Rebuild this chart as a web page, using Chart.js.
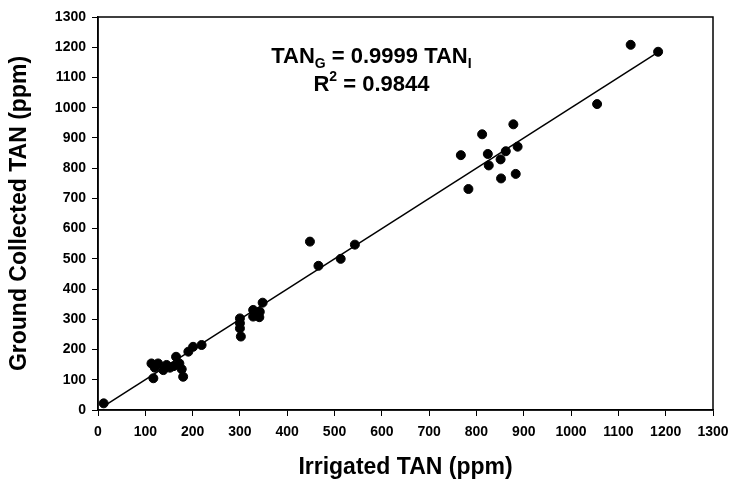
<!DOCTYPE html>
<html><head><meta charset="utf-8">
<script src="https://cdn.jsdelivr.net/npm/chart.js@4/dist/chart.umd.min.js"></script>
<style>html,body{margin:0;padding:0;background:#fff}#w{width:733px;height:490px}</style>
</head><body><div id="w"><canvas id="c"></canvas></div>
<script>
const irrigatedTAN = [12,113,117,120,127,138,145,152,160,165,172,177,180,191,201,219,
  300,300,300,302,328,328,341,342,348,448,466,513,543,
  767,783,812,824,826,851,852,862,878,883,887,1055,1126,1184];
const groundTAN = [22,154,105,140,154,132,149,140,145,176,154,135,110,193,209,215,
  303,287,270,243,331,309,307,325,355,557,477,500,547,
  843,731,912,847,809,829,766,856,945,781,871,1012,1208,1185];
const fitX = [10,1185];
const slope = 0.9999;
const xTicks = [0,100,200,300,400,500,600,700,800,900,1000,1100,1200,1300];
const yTicks = [0,100,200,300,400,500,600,700,800,900,1000,1100,1200,1300];
const eqLine1 = ["TAN","G"," = 0.9999 TAN","I"];
const eqLine2 = ["R","2"," = 0.9844"];

const pts = irrigatedTAN.map((x,i)=>({x:x,y:groundTAN[i]}));
const fit = fitX.map(x=>({x:x,y:slope*x}));
const F = "'Liberation Sans', Arial, sans-serif";

const frame = {
  id:'frame',
  afterDraw(chart){
    const {ctx, chartArea:a, scales} = chart;
    ctx.save();
    ctx.strokeStyle='#000'; ctx.lineWidth=1.5;
    ctx.strokeRect(a.left, a.top, a.right-a.left, a.bottom-a.top);
    const cx = scales.x.getPixelForValue(578);
    const big = "bold 22px "+F, small = "bold 14px "+F;
    function rich(parts, y, subOff){
      let w=0;
      parts.forEach((p,i)=>{ctx.font = i%2? small: big; w+=ctx.measureText(p).width;});
      let x = cx - w/2;
      parts.forEach((p,i)=>{ctx.font = i%2? small: big; ctx.fillText(p, x, y + (i%2?subOff:0)); x+=ctx.measureText(p).width;});
    }
    ctx.fillStyle='#000'; ctx.textBaseline='alphabetic'; ctx.textAlign='left';
    rich(eqLine1, scales.y.getPixelForValue(1147), 5);
    rich(eqLine2, scales.y.getPixelForValue(1055), -10);
    ctx.restore();
  }
};

new Chart(document.getElementById('c'), {
  type:'scatter',
  data:{datasets:[
    {data:pts, backgroundColor:'#000', borderColor:'#000', pointRadius:4.5, pointHoverRadius:4.5, order:1},
    {type:'line', data:fit, borderColor:'#000', borderWidth:1.5, pointRadius:0, fill:false, order:2}
  ]},
  options:{
    responsive:true, maintainAspectRatio:false, animation:false,
    layout:{padding:{left:0,right:20,top:17,bottom:0}},
    plugins:{legend:{display:false}, tooltip:{enabled:false}},
    scales:{
      x:{type:'linear', min:0, max:1300,
        afterBuildTicks(s){ s.ticks = xTicks.map(v=>({value:v})); },
        afterFit(s){ s.height = 80; s.paddingRight = 0; s.paddingLeft = 0; },
        grid:{display:true, drawOnChartArea:false, drawTicks:true, tickLength:6, color:'#000', lineWidth:1},
        border:{display:true, color:'#000', width:1.5},
        ticks:{color:'#000', font:{family:F, size:14, weight:'bold'}, padding:8, maxRotation:0, autoSkip:false, callback:v=>String(v)},
        title:{display:true, text:'Irrigated TAN (ppm)', color:'#000', font:{family:F, size:23, weight:'bold'}, padding:{top:0,bottom:9}}
      },
      y:{type:'linear', min:0, max:1300,
        afterBuildTicks(s){ s.ticks = yTicks.map(v=>({value:v})); },
        afterFit(s){ s.width = 98; s.paddingTop = 0; s.paddingBottom = 0; },
        grid:{display:true, drawOnChartArea:false, drawTicks:true, tickLength:6, color:'#000', lineWidth:1},
        border:{display:true, color:'#000', width:1.5},
        ticks:{color:'#000', font:{family:F, size:14, weight:'bold'}, padding:6, autoSkip:false, callback:v=>String(v)},
        title:{display:true, text:'Ground Collected TAN (ppm)', color:'#000', font:{family:F, size:23, weight:'bold'}, padding:{top:6,bottom:0}}
      }
    }
  },
  plugins:[frame]
});
</script></body></html>
